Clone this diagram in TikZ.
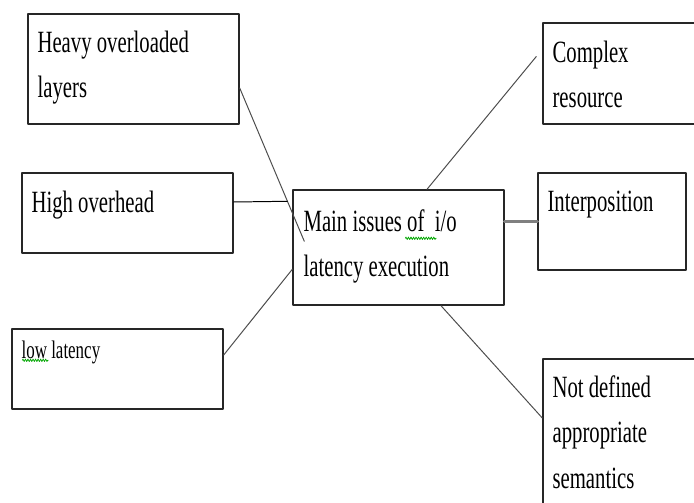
\documentclass[tikz,border=0pt]{standalone}
\usepackage{fontspec}
\setmainfont{Liberation Serif}[FakeStretch=0.67]
\usetikzlibrary{decorations.pathmorphing}

\tikzset{
  issue/.style={draw=black!85,line width=1pt,inner sep=0pt},
  boxwh/.style 2 args={minimum width=#1*0.025cm,minimum height=#2*0.025cm},
  txt/.style={anchor=base west,inner sep=0pt,align=left,
    font=\fontsize{22pt}{32.5pt}\selectfont},
  link/.style={draw=black!70,line width=0.7pt},
  wavy/.style={draw=green!65!black,line width=0.5pt,decorate,
    decoration={zigzag,amplitude=0.9pt,segment length=1.8pt}}
}

\begin{document}
\begin{tikzpicture}[x=0.025cm,y=-0.025cm,line cap=round,line join=round]
  \useasboundingbox (0,0) rectangle (694,503);
  \clip (0,0) rectangle (694,503);

  \node[issue,boxwh={211}{110}] (heavy) at (133.5,69) {};
  \node[issue,boxwh={211}{80}] (high) at (127.5,213) {};
  \node[issue,boxwh={211}{80}] (low) at (117.5,369) {};
  \node[issue,boxwh={211}{115}] (main) at (398.5,247.5) {};
  \node[issue,boxwh={167}{101}] (complex) at (626.5,73.5) {};
  \node[issue,boxwh={148}{97}] (interp) at (612,221.5) {};
  \node[issue,boxwh={167}{171}] (notdef) at (626.5,444.5) {};

  % base of a multi-line node sits on its last line
  \node[txt] (heavyt) at ([shift={(10,84.7)}]heavy.north west) {Heavy overloaded\\layers};
  \node[txt] (hight) at ([shift={(10,40)}]high.north west) {High overhead};
  \node[txt,font=\fontsize{18pt}{27pt}\selectfont] (lowt) at ([shift={(10,30)}]low.north west) {low latency};
  \node[txt] (maint) at ([shift={(11,87.7)}]main.north west) {Main issues of~ i/o\\latency execution};
  \node[txt] (complext) at ([shift={(10,85.7)}]complex.north west) {Complex\\resource};
  \node[txt] (interpt) at ([shift={(10,39)}]interp.north west) {Interposition};
  \node[txt] (notdeft) at ([shift={(10,130.4)}]notdef.north west) {Not defined\\appropriate\\semantics};

  \coordinate (heavyend) at ([shift={(12,52)}]main.north west);
  \coordinate (highend) at ([shift={(-5,12)}]main.north west);
  \coordinate (complexend) at ([shift={(-6,-17)}]complex.west);

  \draw[link] ([shift={(0,19)}]heavy.east) -- (heavyend);
  \draw[link,draw=black] ([shift={(0,-11)}]high.east) -- (highend);
  \draw[link] ([shift={(0,-14)}]low.east) -- ([shift={(0,80)}]main.north west);
  \draw[link] ([shift={(28.5,0)}]main.north) -- (complexend);
  \draw[line width=2.6pt,draw=black!50] (main.east |- interp.west) -- (interp.west);
  \draw[link] ([shift={(42.5,0)}]main.south) -- ([shift={(0,-26.5)}]notdef.west);

  \draw[wavy] ([shift={(102,-38.7)}]maint.base west) -- ++(31,0);
  \draw[wavy] ([shift={(1,2)}]lowt.base west) -- ++(26,0);
\end{tikzpicture}
\end{document}
